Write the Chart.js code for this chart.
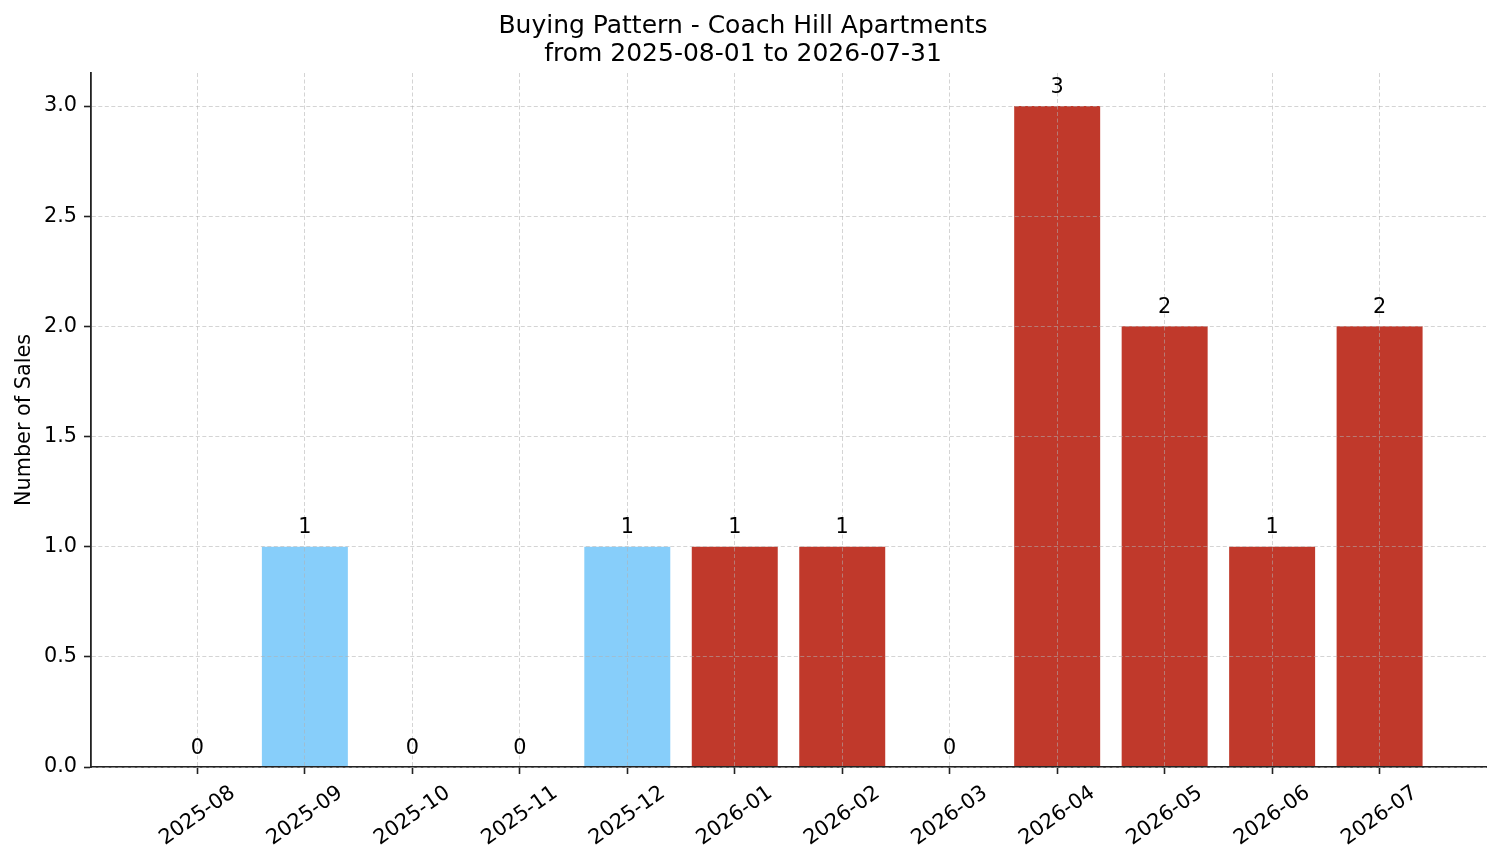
<!DOCTYPE html>
<html>
<head>
<meta charset="utf-8">
<script src="https://cdn.jsdelivr.net/npm/chart.js@4"></script>
<style>
  body { margin: 0; background: #fff; }
  canvas { display: block; }
</style>
</head>
<body>
<canvas id="buyingChart" width="1501" height="863"></canvas>
<script>
// monthly sales, Coach Hill Apartments
const months = ["2025-08", "2025-09", "2025-10", "2025-11", "2025-12", "2026-01",
  "2026-02", "2026-03", "2026-04", "2026-05", "2026-06", "2026-07"];
const sales = [0, 1, 0, 0, 1, 1, 1, 0, 3, 2, 1, 2];
const yTicks = [0, 0.5, 1, 1.5, 2, 2.5, 3];

const FONT = "'DejaVu Sans', sans-serif";
const BLUE = "#87CEFA";
const RED = "#C0392B";

// 2025 months in blue, 2026 months in red
const barColors = months.map((m) => (m.startsWith("2025") ? BLUE : RED));

// count above each bar, drawn after the grid so the lines don't cross it
const valueLabels = {
  id: "valueLabels",
  afterDraw(chart) {
    const ctx = chart.ctx;
    const meta = chart.getDatasetMeta(0);
    ctx.save();
    ctx.font = "20.8px " + FONT;
    ctx.fillStyle = "#000";
    ctx.textAlign = "center";
    ctx.textBaseline = "alphabetic";
    meta.data.forEach((bar, i) => {
      ctx.fillText(String(sales[i]), bar.x, bar.y - 13.5);
    });
    ctx.restore();
  },
};

// matplotlib-style rotated labels, centred under the tick
const monthLabels = {
  id: "monthLabels",
  afterDraw(chart) {
    const ctx = chart.ctx;
    const xs = chart.scales.x;
    ctx.save();
    ctx.font = "20.8px " + FONT;
    ctx.fillStyle = "#000";
    ctx.textAlign = "center";
    ctx.textBaseline = "middle";
    xs.ticks.forEach((t) => {
      const label = months[t.value];
      if (label === undefined) return;
      const px = xs.getPixelForValue(t.value);
      ctx.save();
      ctx.translate(px, xs.top + 49);
      ctx.rotate((-35 * Math.PI) / 180);
      ctx.fillText(label, 0, 0);
      ctx.restore();
    });
    ctx.restore();
  },
};

const gridStyle = {
  color: "rgba(176,176,176,0.55)",
  lineWidth: 1,
  z: 1,
  offset: false,
  drawTicks: true,
  tickLength: 7,
  tickColor: "#222",
  tickWidth: 1.6,
  tickBorderDash: [],
};

const borderStyle = { display: true, color: "#222", width: 1.8, dash: [4, 2.5], z: 1 };

new Chart(document.getElementById("buyingChart"), {
  type: "bar",
  data: {
    datasets: [
      {
        data: months.map((m, i) => ({ x: i, y: sales[i] })),
        backgroundColor: barColors,
        borderWidth: 0,
        categoryPercentage: 1,
        barPercentage: 0.8,
      },
    ],
  },
  options: {
    responsive: false,
    animation: false,
    layout: { padding: { left: 0, right: 15, top: 0, bottom: 0 } },
    plugins: {
      legend: { display: false },
      tooltip: { enabled: false },
      title: {
        display: true,
        text: ["Buying Pattern - Coach Hill Apartments", "from 2025-08-01 to 2026-07-31"],
        color: "#000",
        font: { family: FONT, size: 25, weight: "normal", lineHeight: 1.12 },
        padding: { top: 12, bottom: 5 },
      },
    },
    scales: {
      x: {
        type: "linear",
        offset: false,
        min: -0.99,
        max: 11.99,
        grid: gridStyle,
        border: borderStyle,
        ticks: {
          display: false,
          stepSize: 1,
          includeBounds: false,
          maxTicksLimit: 20,
        },
        afterFit(scale) {
          scale.height = 96;
        },
      },
      y: {
        min: 0,
        max: 3.15,
        grid: gridStyle,
        border: borderStyle,
        ticks: {
          stepSize: 0.5,
          includeBounds: false,
          padding: 7,
          color: "#000",
          font: { family: FONT, size: 20.8 },
          callback: (v) => (yTicks.includes(v) ? v.toFixed(1) : ""),
        },
        title: {
          display: true,
          text: "Number of Sales",
          color: "#000",
          font: { family: FONT, size: 20.8 },
          padding: { top: 12, bottom: 0 },
        },
        afterFit(scale) {
          scale.width = 91;
        },
      },
    },
  },
  plugins: [valueLabels, monthLabels],
});
</script>
</body>
</html>
